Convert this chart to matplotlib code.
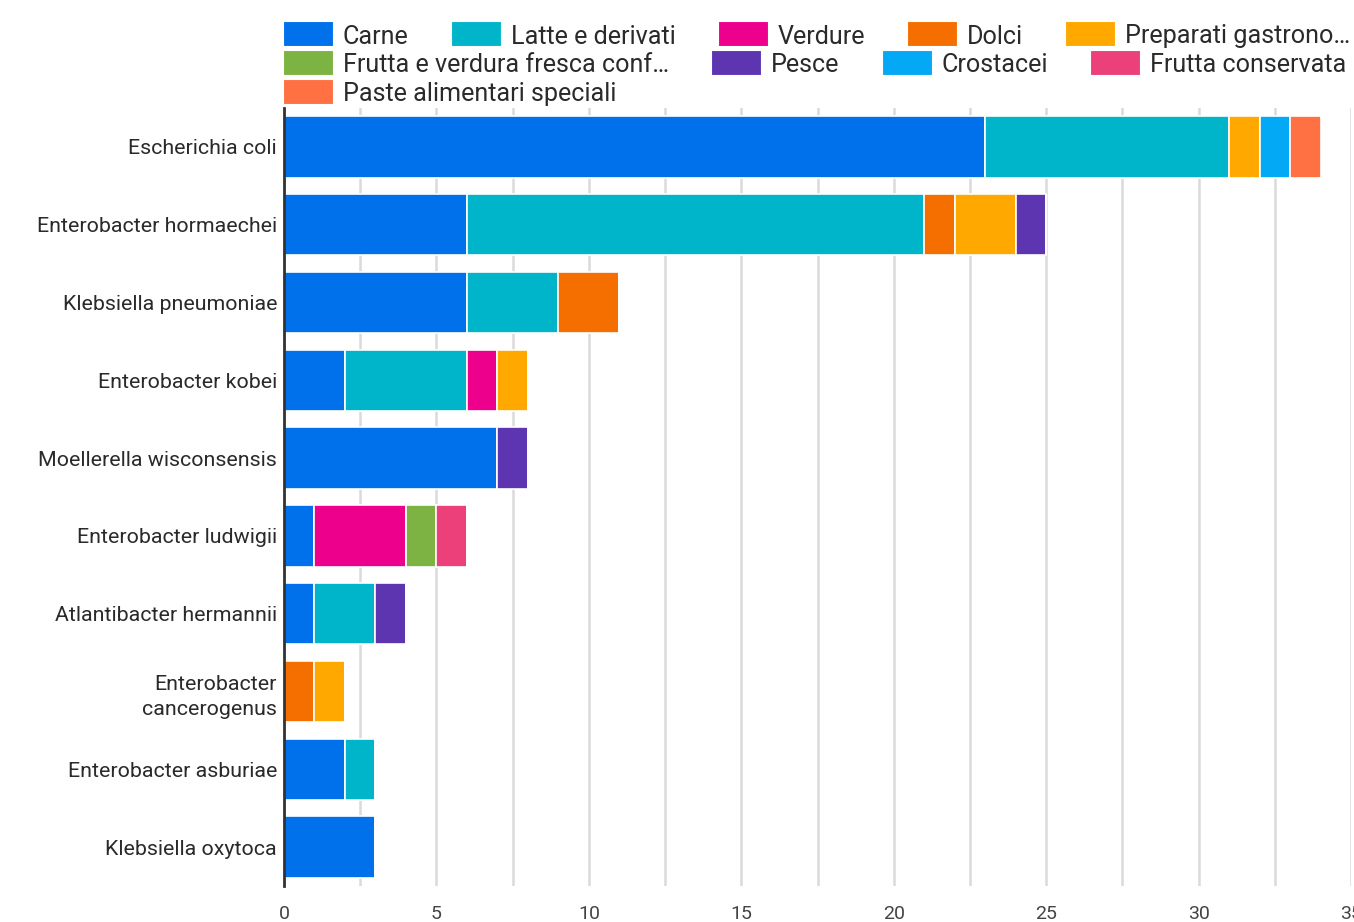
import matplotlib
matplotlib.use("Agg")
import matplotlib.pyplot as plt
from matplotlib.patches import Rectangle
import numpy as np

plt.rcParams["font.family"] = ["Roboto", "DejaVu Sans"]

# Bacterial species (one bar per species)
species = [
    "Escherichia coli",
    "Enterobacter hormaechei",
    "Klebsiella pneumoniae",
    "Enterobacter kobei",
    "Moellerella wisconsensis",
    "Enterobacter ludwigii",
    "Atlantibacter hermannii",
    "Enterobacter\ncancerogenus",
    "Enterobacter asburiae",
    "Klebsiella oxytoca",
]

# Food categories (stack segments)
categories = [
    "Carne",
    "Latte e derivati",
    "Verdure",
    "Dolci",
    "Preparati gastrono…",
    "Frutta e verdura fresca conf…",
    "Pesce",
    "Crostacei",
    "Frutta conservata",
    "Paste alimentari speciali",
]

# Isolate counts per category, in species order
carne             = [23, 6, 6, 2, 7, 1, 1, 0, 2, 3]
latte_derivati    = [8, 15, 3, 4, 0, 0, 2, 0, 1, 0]
verdure           = [0, 0, 0, 1, 0, 3, 0, 0, 0, 0]
dolci             = [0, 1, 2, 0, 0, 0, 0, 1, 0, 0]
preparati         = [1, 2, 0, 1, 0, 0, 0, 1, 0, 0]
frutta_verdura    = [0, 0, 0, 0, 0, 1, 0, 0, 0, 0]
pesce             = [0, 1, 0, 0, 1, 0, 1, 0, 0, 0]
crostacei         = [1, 0, 0, 0, 0, 0, 0, 0, 0, 0]
frutta_conservata = [0, 0, 0, 0, 0, 1, 0, 0, 0, 0]
paste_speciali    = [1, 0, 0, 0, 0, 0, 0, 0, 0, 0]

series = [carne, latte_derivati, verdure, dolci, preparati, frutta_verdura,
          pesce, crostacei, frutta_conservata, paste_speciali]

colors = ["#0071EB", "#00B5C9", "#EC008C", "#F56F00", "#FFA800",
          "#7CB342", "#5E35B1", "#03A9F4", "#EC407A", "#FF7043"]

# Legend rows as laid out above the plot
legend_rows = [[0, 1, 2, 3, 4], [5, 6, 7, 8], [9]]

W, H = 1354, 922
fig = plt.figure(figsize=(W / 100, H / 100), dpi=100)
ax = fig.add_axes([284 / W, 1 - 886 / H, (1351 - 284) / W, (886 - 108) / H])

y = np.arange(len(species))
left = np.zeros(len(species))
for vals, col in zip(series, colors):
    v = np.array(vals, dtype=float)
    ax.barh(y, v, left=left, height=0.79, color=col, edgecolor="white",
            linewidth=1.2, zorder=3)
    left += v

ax.set_ylim(len(species) - 0.5, -0.5)
ax.set_xlim(0, 35)
ax.set_xticks(np.arange(0, 36, 5))
ax.set_xticks(np.arange(2.5, 35, 5), minor=True)
ax.grid(axis="x", which="both", color="#DADADA", linewidth=1.8, zorder=0)
ax.set_yticks(y)
ax.set_yticklabels(species, fontsize=15.4, color="#2A2A2A", linespacing=1.45,
                   ha="right")
ax.tick_params(axis="y", length=0, pad=5)
ax.tick_params(axis="x", which="both", length=0, pad=14, labelsize=14,
               labelcolor="#444444")
for side in ["top", "right", "bottom"]:
    ax.spines[side].set_visible(False)
ax.spines["left"].set_color("#333333")
ax.spines["left"].set_linewidth(2)
ax.spines["left"].set_zorder(5)

# Flowing legend drawn in figure pixel coordinates
fig.canvas.draw()
renderer = fig.canvas.get_renderer()
row_centers = [34, 63, 92]
box_w, box_h = 50, 25
for row, yc in zip(legend_rows, row_centers):
    x = 283
    for i in row:
        fig.patches.append(Rectangle((x / W, (H - yc - box_h / 2) / H),
                                     box_w / W, box_h / H,
                                     transform=fig.transFigure,
                                     facecolor=colors[i], edgecolor="white",
                                     linewidth=0.8))
        t = fig.text((x + box_w + 10) / W, (H - yc) / H, categories[i],
                     fontsize=18.1, color="#2A2A2A", va="center_baseline",
                     ha="left")
        bb = t.get_window_extent(renderer)
        x = x + box_w + 10 + bb.width + 42

fig.savefig("out.png", dpi=100)
